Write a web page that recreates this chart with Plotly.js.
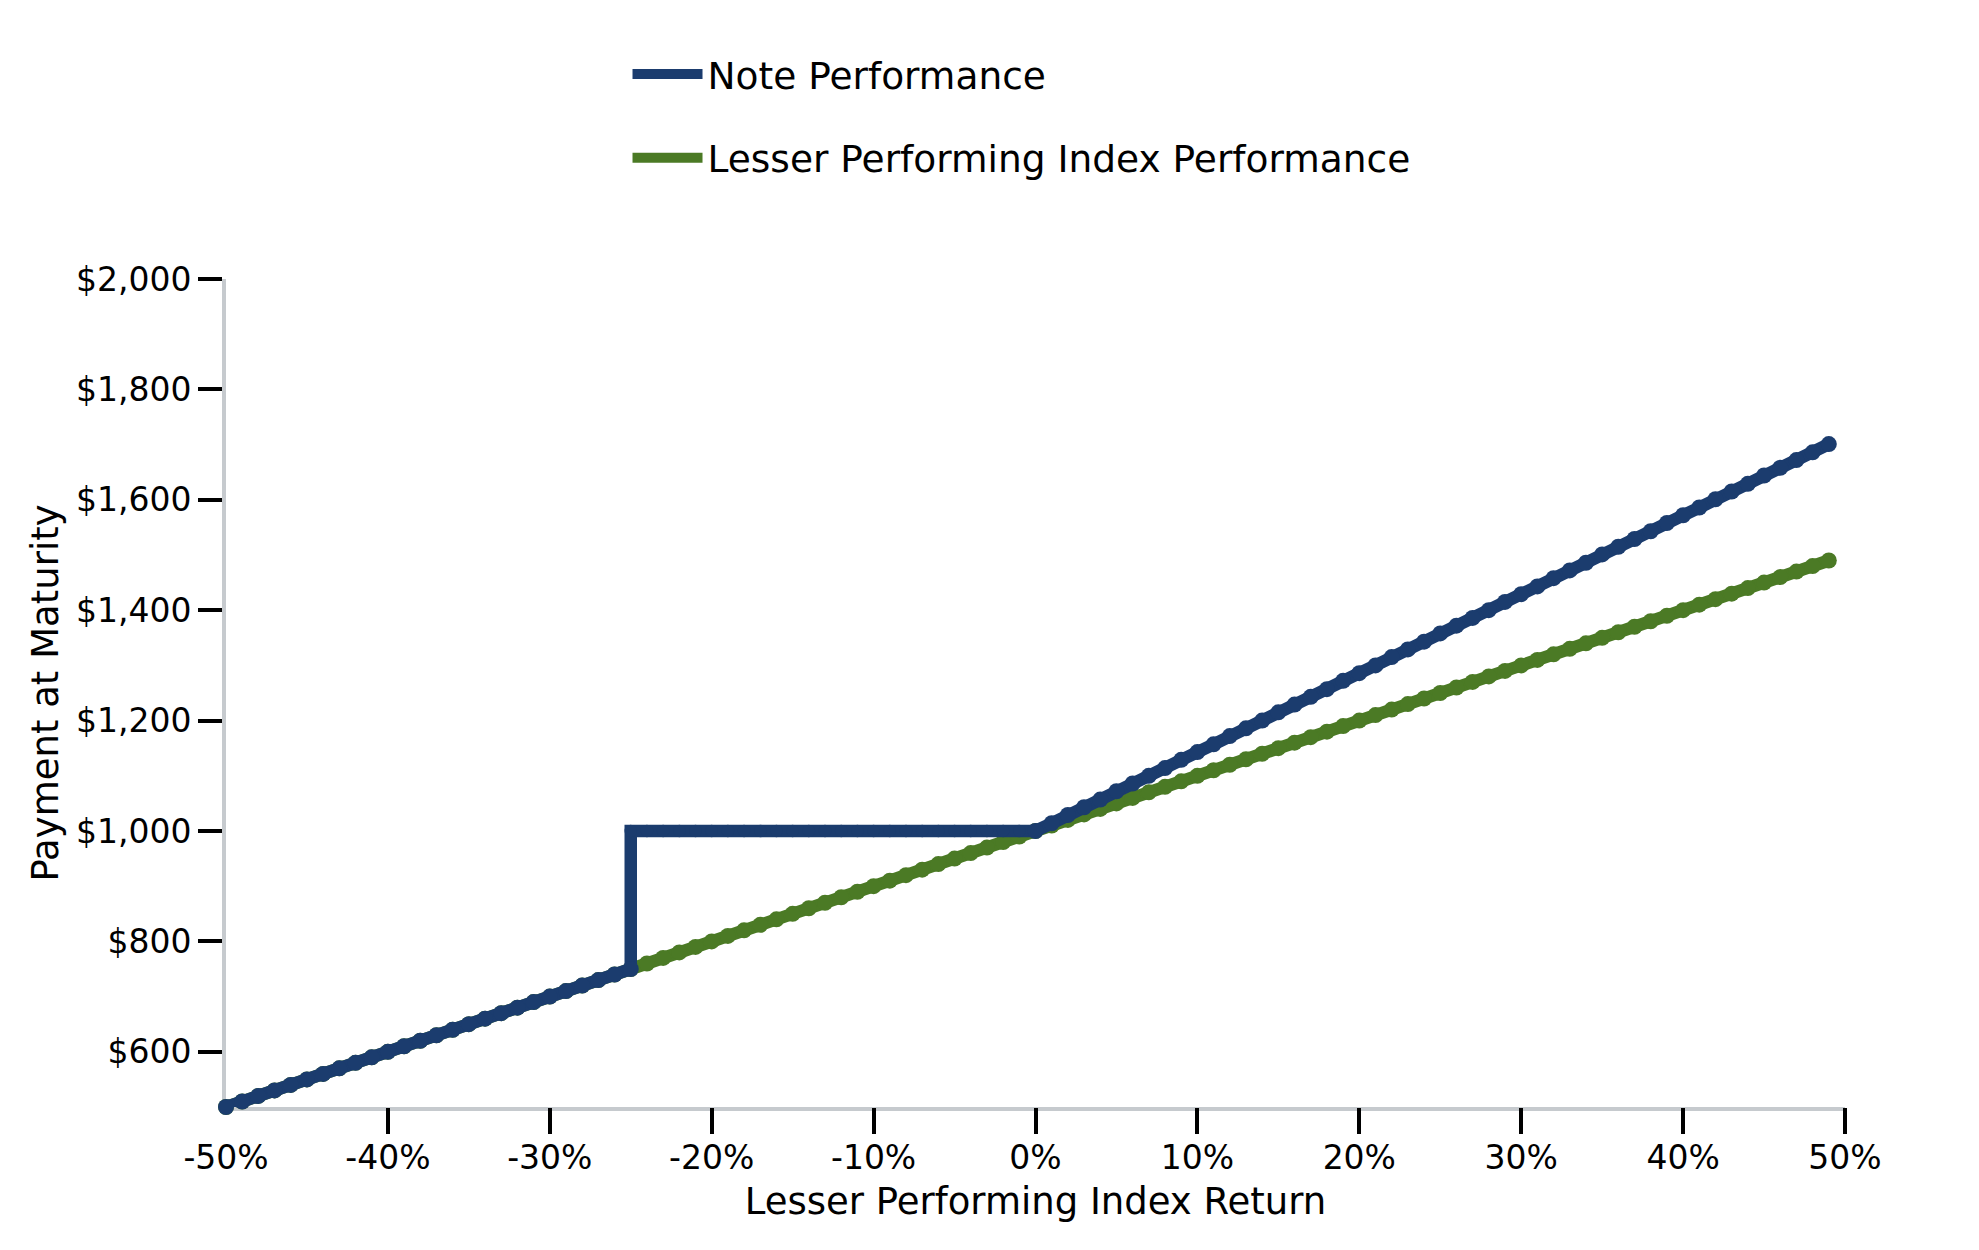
<!DOCTYPE html>
<html>
<head>
<meta charset="utf-8">
<script src="https://cdn.plot.ly/plotly-3.0.1.min.js"></script>
<style>
html,body{margin:0;padding:0;background:#fff;}
#chart{width:1979px;height:1250px;}
</style>
</head>
<body>
<div id="chart"></div>
<script>
// Lesser performing index return (%)
var indexX = [-50,-49,-48,-47,-46,-45,-44,-43,-42,-41,-40,-39,-38,-37,-36,-35,-34,-33,-32,-31,-30,-29,-28,-27,-26,-25,-24,-23,-22,-21,-20,-19,-18,-17,-16,-15,-14,-13,-12,-11,-10,-9,-8,-7,-6,-5,-4,-3,-2,-1,0,1,2,3,4,5,6,7,8,9,10,11,12,13,14,15,16,17,18,19,20,21,22,23,24,25,26,27,28,29,30,31,32,33,34,35,36,37,38,39,40,41,42,43,44,45,46,47,48,49];
// Lesser performing index performance ($)
var indexY = [500,510,520,530,540,550,560,570,580,590,600,610,620,630,640,650,660,670,680,690,700,710,720,730,740,750,760,770,780,790,800,810,820,830,840,850,860,870,880,890,900,910,920,930,940,950,960,970,980,990,1000,1010,1020,1030,1040,1050,1060,1070,1080,1090,1100,1110,1120,1130,1140,1150,1160,1170,1180,1190,1200,1210,1220,1230,1240,1250,1260,1270,1280,1290,1300,1310,1320,1330,1340,1350,1360,1370,1380,1390,1400,1410,1420,1430,1440,1450,1460,1470,1480,1490];
// Note performance: x (%) includes the barrier jump at -25%
var noteX = [-50,-49,-48,-47,-46,-45,-44,-43,-42,-41,-40,-39,-38,-37,-36,-35,-34,-33,-32,-31,-30,-29,-28,-27,-26,-25,-25,-24,-23,-22,-21,-20,-19,-18,-17,-16,-15,-14,-13,-12,-11,-10,-9,-8,-7,-6,-5,-4,-3,-2,-1,0,1,2,3,4,5,6,7,8,9,10,11,12,13,14,15,16,17,18,19,20,21,22,23,24,25,26,27,28,29,30,31,32,33,34,35,36,37,38,39,40,41,42,43,44,45,46,47,48,49];
var noteY = [500,510,520,530,540,550,560,570,580,590,600,610,620,630,640,650,660,670,680,690,700,710,720,730,740,750,1000,1000,1000,1000,1000,1000,1000,1000,1000,1000,1000,1000,1000,1000,1000,1000,1000,1000,1000,1000,1000,1000,1000,1000,1000,1000,1014,1029,1043,1057,1072,1086,1100,1114,1129,1143,1157,1172,1186,1200,1215,1229,1243,1257,1272,1286,1300,1315,1329,1343,1358,1372,1386,1400,1415,1429,1443,1458,1472,1486,1501,1515,1529,1543,1558,1572,1586,1601,1615,1629,1644,1658,1672,1686,1701];

var xTickVals = [-50,-40,-30,-20,-10,0,10,20,30,40,50];
var xTickText = ['-50%','-40%','-30%','-20%','-10%','0%','10%','20%','30%','40%','50%'];
var xTickMarks = [-40,-30,-20,-10,0,10,20,30,40,50];
var yTickVals = [600,800,1000,1200,1400,1600,1800,2000];
var yTickText = ['$600','$800','$1,000','$1,200','$1,400','$1,600','$1,800','$2,000'];

var BLUE = '#1b3c6e';
var GREEN = '#4b7a25';
var FONT = 'DejaVu Sans, sans-serif';
var LW = 12.5, MS = 16;

// flat (protected) part of the note is drawn as a plain band without bulging dots
var noteSizes = noteX.map(function (x, i) {
  return (noteY[i] === 1000 && x < 0) ? LW : MS;
});

var traces = [
  {
    x: indexX, y: indexY, type: 'scatter', mode: 'lines',
    name: 'Lesser Performing Index Performance',
    legendgroup: 'g2', legendrank: 2, cliponaxis: false,
    line: {color: GREEN, width: LW},
    hoverinfo: 'skip'
  },
  {
    x: indexX, y: indexY, type: 'scatter', mode: 'markers',
    name: 'Lesser Performing Index Performance', showlegend: false,
    legendgroup: 'g2', cliponaxis: false,
    marker: {color: GREEN, size: MS, opacity: 1, line: {width: 0}},
    hoverinfo: 'skip'
  },
  {
    x: noteX, y: noteY, type: 'scatter', mode: 'lines',
    name: 'Note Performance',
    legendgroup: 'g1', legendrank: 1, cliponaxis: false,
    line: {color: BLUE, width: LW},
    hoverinfo: 'skip'
  },
  {
    x: noteX, y: noteY, type: 'scatter', mode: 'markers',
    name: 'Note Performance', showlegend: false,
    legendgroup: 'g1', cliponaxis: false,
    marker: {color: BLUE, size: noteSizes, opacity: 1, line: {width: 0, color: BLUE}},
    hoverinfo: 'skip'
  },
  {
    x: [], y: [], xaxis: 'x2', type: 'scatter', mode: 'lines',
    showlegend: false, hoverinfo: 'skip'
  }
];

var layout = {
  width: 1979, height: 1250,
  paper_bgcolor: '#ffffff', plot_bgcolor: '#ffffff',
  font: {family: FONT, color: '#000000', size: 33},
  margin: {l: 226, r: 134, t: 279, b: 143, pad: 0},
  showlegend: true,
  legend: {
    x: 0.248, y: 1.285, xanchor: 'left', yanchor: 'top',
    orientation: 'v', font: {family: FONT, size: 37.5, color: '#000'},
    itemwidth: 70, tracegroupgap: 32, bgcolor: 'rgba(0,0,0,0)'
  },
  xaxis: {
    range: [-50, 50], tickmode: 'array', tickvals: xTickVals, ticktext: xTickText,
    ticks: 'outside', ticklen: 18, tickwidth: 1, tickcolor: 'rgba(0,0,0,0)',
    showgrid: false, zeroline: false, layer: 'below traces',
    showline: true, linecolor: '#c6cace', linewidth: 4,
    tickfont: {family: FONT, size: 33, color: '#000'},
    title: {text: 'Lesser Performing Index Return', font: {family: FONT, size: 37, color: '#000'}, standoff: 14},
    automargin: false, fixedrange: true
  },
  xaxis2: {
    overlaying: 'x', anchor: 'y', side: 'bottom', layer: 'below traces',
    range: [-50, 50], tickmode: 'array', tickvals: xTickMarks,
    showticklabels: false, ticks: 'outside', ticklen: 26, tickwidth: 4, tickcolor: '#000',
    showgrid: false, zeroline: false, showline: false, fixedrange: true
  },
  yaxis: {
    range: [500, 2000], tickmode: 'array', tickvals: yTickVals, ticktext: yTickText,
    ticks: 'outside', ticklen: 24, tickwidth: 4, tickcolor: '#000',
    showgrid: false, zeroline: false, layer: 'below traces',
    showline: true, linecolor: '#c6cace', linewidth: 4,
    tickfont: {family: FONT, size: 33, color: '#000'},
    title: {text: 'Payment at Maturity', font: {family: FONT, size: 37, color: '#000'}, standoff: 7},
    automargin: false, fixedrange: true
  }
};

Plotly.newPlot('chart', traces, layout, {displayModeBar: false, staticPlot: true});
</script>
</body>
</html>
